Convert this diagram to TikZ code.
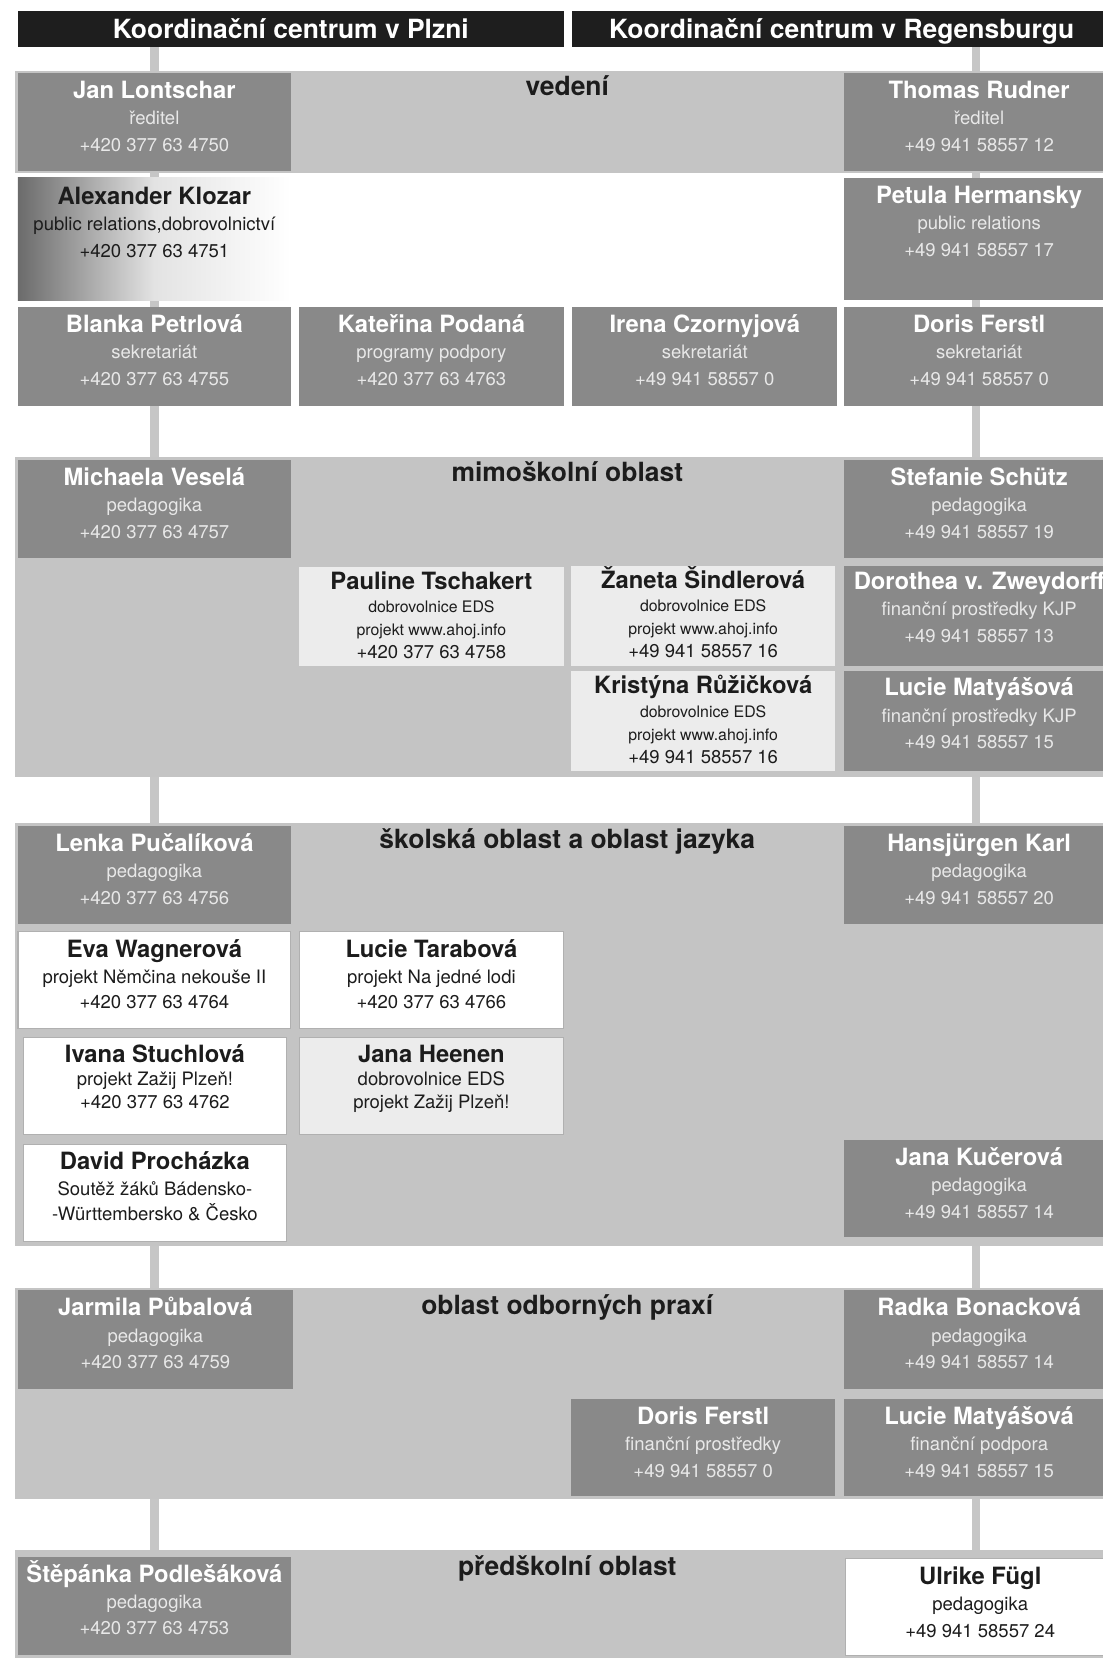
\documentclass[tikz,border=0pt]{standalone}
\usepackage{fontspec}
\setmainfont{TeX Gyre Heros}
\usetikzlibrary{positioning}
\usetikzlibrary{backgrounds}

\definecolor{headblack}{HTML}{1E1E1E}
\definecolor{bandgray}{HTML}{C4C4C4}
\definecolor{linegray}{HTML}{C6C6C6}
\definecolor{boxgray}{HTML}{898989}
\definecolor{palebox}{HTML}{ECECEC}
\definecolor{rimgray}{HTML}{B0B0B0}
\definecolor{ink}{HTML}{1C1C1C}
\definecolor{subwhite}{HTML}{E8E8E8}
\colorlet{namecol}{ink}

% name line of a card
\newcommand{\who}[1]{{\fontsize{22.5}{25}\selectfont\bfseries\color{namecol}\rule{0pt}{21pt}#1}}
% a card: box plus its text
\newcommand{\card}[8][]{%
  \node[#2, minimum width=#6, minimum height=#7] (#3) at (#4,#5) {};
  \node[#2 text, below=3pt of #3.north, #1] (#3 text) {#8};}

\tikzset{
  box/.style={rectangle, anchor=north west, inner sep=0pt, outer sep=0pt},
  band/.style={box, fill=bandgray, minimum width=1040},
  header/.style={box, fill=headblack, text=white, minimum height=34,
    text height=18pt, text depth=0pt, font=\fontsize{25}{28}\selectfont\bfseries},
  title/.style={anchor=base, inner sep=0pt, text=ink, font=\fontsize{25}{28}\selectfont\bfseries},
  link/.style={draw=linegray, line width=8pt},
  % card styles
  dark/.style={box, fill=boxgray},
  pale/.style={box, fill=palebox},
  paper/.style={box, fill=white, draw=rimgray, line width=1pt},
  greypaper/.style={box, fill=palebox, draw=rimgray, line width=1pt},
  fade/.style={box, left color=black!58, right color=white, middle color=black!11},
  card text/.style={align=center, inner sep=0pt, font=\fontsize{17.5}{25}\selectfont},
  dark text/.style={card text, text=subwhite, execute at begin node={\colorlet{namecol}{white}}},
  pale text/.style={card text, text=ink, font=\fontsize{15}{22}\selectfont, yshift=3pt},
  paper text/.style={card text, text=ink, font=\fontsize{17.5}{24.5}\selectfont},
  greypaper text/.style={paper text},
  fade text/.style={card text, text=ink, yshift=-1pt},
}

\begin{document}
\begin{tikzpicture}[x=1pt, y=-1pt]
\useasboundingbox (0,0) rectangle (1043,1568);
\begin{pgfonlayer}{background}
  \fill[white] (0,0) rectangle (1043,1568);
\end{pgfonlayer}
\clip (0,0) rectangle (1043,1568);

% headers
\node[header, minimum width=516] (hdrL) at (17,10) {Koordinační centrum v Plzni};
\node[header, minimum width=510] (hdrR) at (541,10) {Koordinační centrum v Regensburgu};

% bands
\node[band, minimum height=97] (vedeni) at (14,67) {};
\node[band, minimum height=303] (mimo) at (14,432) {};
\node[band, minimum height=400] (skol) at (14,778) {};
\node[band, minimum height=200] (odbor) at (14,1218) {};
\node[band, minimum height=120] (pred) at (14,1466) {};

\node[title] (t-vedeni) at (536.5,90) {vedení};
\node[title] (t-mimo) at (536.5,455) {mimoškolní oblast};
\node[title] (t-skol) at (536.5,802) {školská oblast a oblast jazyka};
\node[title] (t-odbor) at (536.5,1243) {oblast odborných praxí};
\node[title] (t-pred) at (536.5,1490) {předškolní oblast};

% vedeni
\card{dark}{jan}{17}{69}{258}{93}{\who{Jan Lontschar}\\ ředitel\\ +420 377 63 4750}
\card{dark}{thomas}{798}{69}{256}{93}{\who{Thomas Rudner}\\ ředitel\\ +49 941 58557 12}
\card{fade}{klozar}{17}{168}{258}{116}{\who{Alexander Klozar}\\ public relations,dobrovolnictví\\ +420 377 63 4751}
\card{dark}{petula}{798}{168}{256}{116}{\who{Petula Hermansky}\\ public relations\\ +49 941 58557 17}
\card{dark}{blanka}{17}{290}{258}{94}{\who{Blanka Petrlová}\\ sekretariát\\ +420 377 63 4755}
\card{dark}{katerina}{283}{290}{250}{94}{\who{Kateřina Podaná}\\ programy podpory\\ +420 377 63 4763}
\card{dark}{irena}{541}{290}{251}{94}{\who{Irena Czornyjová}\\ sekretariát\\ +49 941 58557 0}
\card{dark}{doris}{798}{290}{256}{94}{\who{Doris Ferstl}\\ sekretariát\\ +49 941 58557 0}

% mimoskolni oblast
\card{dark}{michaela}{17}{435}{258}{93}{\who{Michaela Veselá}\\ pedagogika\\ +420 377 63 4757}
\card{dark}{stefanie}{798}{435}{256}{93}{\who{Stefanie Schütz}\\ pedagogika\\ +49 941 58557 19}
\card{pale}{pauline}{283}{536}{250}{94}{\who{Pauline Tschakert}\\ dobrovolnice EDS\\ projekt www.ahoj.info\\ {\fontsize{17.5}{22}\selectfont +420 377 63 4758}}
\card{pale}{zaneta}{540}{535}{250}{95}{\who{Žaneta Šindlerová}\\ dobrovolnice EDS\\ projekt www.ahoj.info\\ {\fontsize{17.5}{22}\selectfont +49 941 58557 16}}
\card[yshift=2pt]{dark}{dorothea}{798}{535}{256}{95}{\who{Dorothea v. Zweydorff}\\ finanční prostředky KJP\\ +49 941 58557 13}
\card{pale}{kristyna}{540}{635}{250}{94}{\who{Kristýna Růžičková}\\ dobrovolnice EDS\\ projekt www.ahoj.info\\ {\fontsize{17.5}{22}\selectfont +49 941 58557 16}}
\card[yshift=1pt]{dark}{luciem}{798}{635}{256}{94}{\who{Lucie Matyášová}\\ finanční prostředky KJP\\ +49 941 58557 15}

% skolska oblast a oblast jazyka
\card{dark}{lenka}{17}{781}{258}{93}{\who{Lenka Pučalíková}\\ pedagogika\\ +420 377 63 4756}
\card{dark}{hansjurgen}{798}{781}{256}{93}{\who{Hansjürgen Karl}\\ pedagogika\\ +49 941 58557 20}
\card{paper}{eva}{17}{881}{258}{92}{\who{Eva Wagnerová}\\ projekt Němčina nekouše II\\ +420 377 63 4764}
\card{paper}{luciet}{283}{881}{250}{92}{\who{Lucie Tarabová}\\ projekt Na jedné lodi\\ +420 377 63 4766}
\card[font=\fontsize{17.5}{21.5}\selectfont]{paper}{ivana}{22}{981}{249}{92}{\who{Ivana Stuchlová}\\ projekt Zažij Plzeň!\\ +420 377 63 4762}
\card[font=\fontsize{17.5}{21.5}\selectfont]{greypaper}{heenen}{283}{981}{250}{92}{\who{Jana Heenen}\\ dobrovolnice EDS\\ projekt Zažij Plzeň!}
\card[font=\fontsize{17.5}{24}\selectfont]{paper}{david}{22}{1082}{249}{92}{\who{David Procházka}\\ Soutěž žáků Bádensko-\\ -Württembersko \& Česko}
\card{dark}{kucerova}{798}{1078}{256}{92}{\who{Jana Kučerová}\\ pedagogika\\ +49 941 58557 14}

% oblast odbornych praxi
\card{dark}{jarmila}{17}{1220}{260}{94}{\who{Jarmila Půbalová}\\ pedagogika\\ +420 377 63 4759}
\card{dark}{radka}{798}{1220}{256}{94}{\who{Radka Bonacková}\\ pedagogika\\ +49 941 58557 14}
\card{dark}{doris2}{540}{1323}{250}{92}{\who{Doris Ferstl}\\ finanční prostředky\\ +49 941 58557 0}
\card{dark}{lucie2}{798}{1323}{256}{92}{\who{Lucie Matyášová}\\ finanční podpora\\ +49 941 58557 15}

% predskolni oblast
\card{dark}{stepanka}{17}{1472}{258}{93}{\who{Štěpánka Podlešáková}\\ pedagogika\\ +420 377 63 4753}
\card[font=\fontsize{17.5}{25}\selectfont]{paper}{ulrike}{800}{1474}{254}{92}{\who{Ulrike Fügl}\\ pedagogika\\ +49 941 58557 24}

% connectors behind everything
\begin{pgfonlayer}{background}
  \draw[link] (hdrL.south -| jan.north) -- (stepanka.north);
  \draw[link] ([xshift=-3pt]hdrR.south -| thomas.north) -- ([xshift=-3pt]ulrike.north -| thomas.north);
\end{pgfonlayer}
\end{tikzpicture}
\end{document}
